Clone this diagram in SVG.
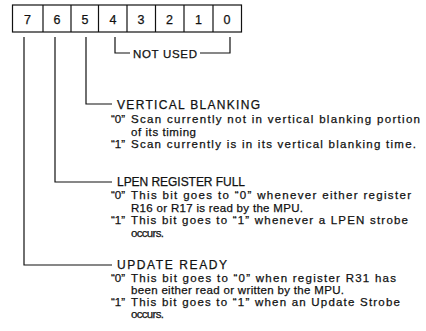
<svg xmlns="http://www.w3.org/2000/svg" width="426" height="331" viewBox="0 0 426 331">
<style>
text{font-family:"Liberation Sans",Arial,sans-serif;fill:#111;stroke:#111;stroke-width:0.25}
.d{font-size:12.5px;text-anchor:middle}
.h{font-size:12px}
.b{font-size:11.5px}
.cell{fill:#fff;stroke:#111;stroke-width:1.2}
.ln{fill:none;stroke:#111;stroke-width:1.2}
</style>
<rect width="426" height="331" fill="#fff"/>
<g id="register">
<rect class="cell" x="12.5" y="5" width="229" height="27"/>
<path class="ln" d="M43 5V32M71 5V32M98.5 5V32M127 5V32M155.5 5V32M184 5V32M213 5V32"/>
<text class="d" x="27.5" y="23.5">7</text>
<text class="d" x="57" y="23.5">6</text>
<text class="d" x="85" y="23.5">5</text>
<text class="d" x="113" y="23.5">4</text>
<text class="d" x="141" y="23.5">3</text>
<text class="d" x="169.5" y="23.5">2</text>
<text class="d" x="198.5" y="23.5">1</text>
<text class="d" x="227" y="23.5">0</text>
</g>
<g id="connectors">
<path class="ln" d="M115 37V53H130M200 53H230V37"/>
<path class="ln" d="M86 37V104H112"/>
<path class="ln" d="M55 37V182H112"/>
<path class="ln" d="M24 37V265H112"/>
</g>
<g id="not-used">
<text class="b" x="133" y="57.5" textLength="64" lengthAdjust="spacing">NOT USED</text>
</g>
<g id="vertical-blanking">
<text class="h" x="117" y="108.5" textLength="143" lengthAdjust="spacing">VERTICAL BLANKING</text>
<text class="b" x="111" y="123">“0”</text>
<text class="b" x="131" y="123" textLength="289" lengthAdjust="spacing">Scan currently not in vertical blanking portion</text>
<text class="b" x="131" y="135.5" textLength="65" lengthAdjust="spacing">of its timing</text>
<text class="b" x="111" y="148">“1”</text>
<text class="b" x="131" y="148" textLength="285" lengthAdjust="spacing">Scan currently is in its vertical blanking time.</text>
</g>
<g id="lpen-register-full">
<text class="h" x="117" y="186" textLength="128" lengthAdjust="spacing">LPEN REGISTER FULL</text>
<text class="b" x="111" y="199">“0”</text>
<text class="b" x="131" y="199" textLength="280" lengthAdjust="spacing">This bit goes to “0” whenever either register</text>
<text class="b" x="131" y="211.5" textLength="172" lengthAdjust="spacing">R16 or R17 is read by the MPU.</text>
<text class="b" x="111" y="224">“1”</text>
<text class="b" x="131" y="224" textLength="277" lengthAdjust="spacing">This bit goes to “1” whenever a LPEN strobe</text>
<text class="b" x="131" y="236.5" textLength="33" lengthAdjust="spacing">occurs.</text>
</g>
<g id="update-ready">
<text class="h" x="117" y="269" textLength="110" lengthAdjust="spacing">UPDATE READY</text>
<text class="b" x="111" y="281.5">“0”</text>
<text class="b" x="131" y="281.5" textLength="265" lengthAdjust="spacing">This bit goes to “0” when register R31 has</text>
<text class="b" x="131" y="293.5" textLength="213" lengthAdjust="spacing">been either read or written by the MPU.</text>
<text class="b" x="111" y="305.5">“1”</text>
<text class="b" x="131" y="305.5" textLength="269" lengthAdjust="spacing">This bit goes to “1” when an Update Strobe</text>
<text class="b" x="131" y="317.5" textLength="33" lengthAdjust="spacing">occurs.</text>
</g>
</svg>
